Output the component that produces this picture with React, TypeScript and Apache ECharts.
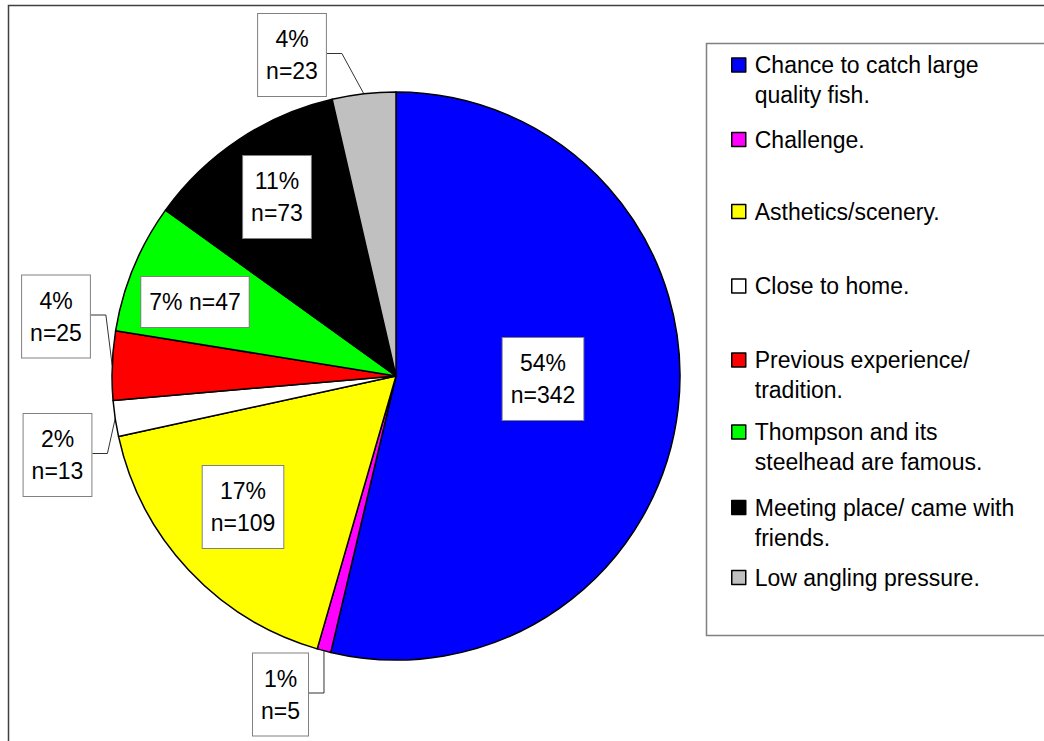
import React, { useEffect, useRef } from "react";
import * as echarts from "echarts";

const categories = [
  "Chance to catch large quality fish.",
  "Challenge.",
  "Asthetics/scenery.",
  "Close to home.",
  "Previous experience/ tradition.",
  "Thompson and its steelhead are famous.",
  "Meeting place/ came with friends.",
  "Low angling pressure.",
];
const legendLabels = [
  "Chance to catch large\nquality fish.",
  "Challenge.",
  "Asthetics/scenery.",
  "Close to home.",
  "Previous experience/\ntradition.",
  "Thompson and its\nsteelhead are famous.",
  "Meeting place/ came with\nfriends.",
  "Low angling pressure.",
];
const counts = [342, 5, 109, 13, 25, 47, 73, 23];
const colors = ["#0000FF", "#FF00FF", "#FFFF00", "#FFFFFF", "#FF0000", "#00FF00", "#000000", "#C0C0C0"];

// layout (not data)
const insideLabel = [true, false, true, false, false, true, true, false];
const labelCenters = [
  [543, 379],
  [280.5, 694.5],
  [243, 507],
  [57.5, 455],
  [56, 316.5],
  [195, 302],
  [277, 197],
  [292, 55],
];
const legendIconY = [65, 139.5, 211.5, 286, 360, 432, 507.5, 577.5];

const FONT = "'Liberation Sans', Arial, sans-serif";

export default function App() {
  const ref = useRef<HTMLDivElement>(null);
  useEffect(() => {
    if (!ref.current) return;
    const chart = echarts.init(ref.current, undefined, { renderer: "svg" });
    const option: any = {
      animation: false,
      backgroundColor: "#ffffff",
      graphic: [
        {
          type: "rect",
          shape: { x: 8.5, y: 5.5, width: 1200, height: 900 },
          style: { fill: "none", stroke: "#404040", lineWidth: 1.5 },
          silent: true,
          z: -10,
        },
        {
          type: "rect",
          shape: { x: 706.5, y: 43.5, width: 500, height: 592 },
          style: { fill: "none", stroke: "#808080", lineWidth: 1.5 },
          silent: true,
          z: -10,
        },
      ],
      legend: categories.map((c, i) => {
        const two = legendLabels[i].indexOf("\n") >= 0;
        return {
          data: [c],
          orient: "vertical",
          left: 731,
          top: legendIconY[i] - (two ? 45 : 15),
          padding: 0,
          icon: "rect",
          itemWidth: 14,
          itemHeight: 14,
          itemGap: 0,
          formatter: () => (two ? "\n" + legendLabels[i] : legendLabels[i]),
          itemStyle: { borderColor: "#000", borderWidth: 1.5 },
          textStyle: {
            fontFamily: FONT,
            fontSize: 23,
            lineHeight: 30,
            color: "#000",
            padding: [0, 0, 0, 4],
          },
        };
      }),
      series: [
        {
          type: "pie",
          center: [396, 376],
          radius: 284,
          startAngle: 90,
          clockwise: true,
          avoidLabelOverlap: false,
          percentPrecision: 0,
          itemStyle: { borderColor: "#000", borderWidth: 1.5 },
          emphasis: { disabled: true },
          label: {
            show: true,
            position: "outside",
            formatter: "{d}%\nn={c}",
            fontFamily: FONT,
            fontSize: 23,
            lineHeight: 32,
            color: "#000",
            backgroundColor: "#fff",
            borderColor: "#808080",
            borderWidth: 1,
            padding: [9, 8],
            align: "center",
          },
          labelLine: {
            show: true,
            length: 0,
            length2: 0,
            lineStyle: { color: "#333", width: 1 },
          },
          labelLayout: (params: any) => {
            const i = params.dataIndex;
            const [cx, cy] = labelCenters[i];
            const res: any = { x: cx, y: cy, align: "center", verticalAlign: "middle" };
            if (!insideLabel[i] && params.labelLinePoints) {
              const p0 = params.labelLinePoints[0];
              const w = params.labelRect.width;
              const left = cx < p0[0];
              const edge = left ? cx + w / 2 : cx - w / 2;
              const bend = left ? edge + 15 : edge - 15;
              res.labelLinePoints = [p0, [bend, cy - 1.5], [edge, cy - 1.5]];
            }
            return res;
          },
          data: categories.map((name, i) => ({
            name,
            value: counts[i],
            itemStyle: { color: colors[i] },
            label: insideLabel[i]
              ? { position: "inside", formatter: i === 5 ? "{d}% n={c}" : "{d}%\nn={c}" }
              : { position: "outside" },
            labelLine: { show: !insideLabel[i] },
          })),
        },
      ],
    };
    chart.setOption(option);
    return () => chart.dispose();
  }, []);
  return (
    <div
      ref={ref}
      style={{ position: "fixed", left: 0, top: 0, width: 1044, height: 741, background: "#fff" }}
    />
  );
}
